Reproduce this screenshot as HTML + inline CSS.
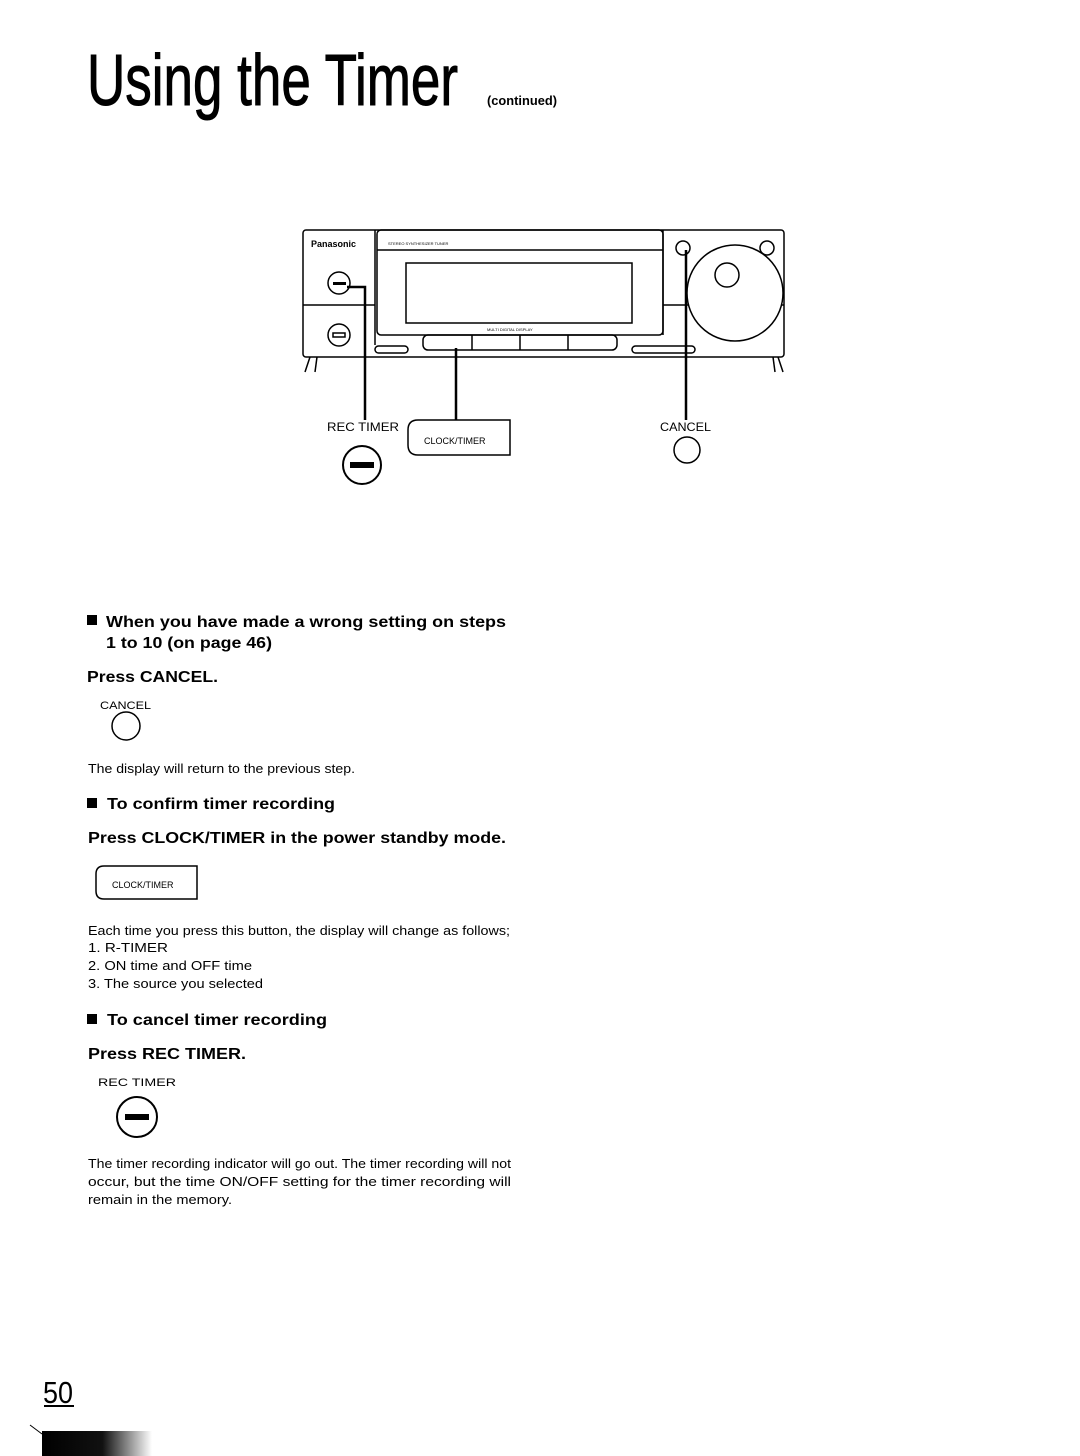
<!DOCTYPE html>
<html><head><meta charset="utf-8"><style>
html,body{margin:0;padding:0;background:#fff;}
svg{display:block;}
text{font-family:"Liberation Sans",Arial,sans-serif;fill:#000;}
.b{font-weight:bold;}
</style></head><body>
<svg width="1080" height="1456" viewBox="0 0 1080 1456" xmlns="http://www.w3.org/2000/svg">
<defs><linearGradient id="g" x1="0" x2="1"><stop offset="0" stop-color="#000"/><stop offset="0.55" stop-color="#111"/><stop offset="1" stop-color="#fff"/></linearGradient></defs>
<text x="87" y="105" font-size="72" textLength="371" lengthAdjust="spacingAndGlyphs" stroke="#000" stroke-width="1">Using the Timer</text>
<text x="487" y="105" font-size="13" class="b" textLength="70" lengthAdjust="spacingAndGlyphs">(continued)</text>

<g fill="none" stroke="#000" stroke-width="1.5">
<rect x="303" y="230" width="481" height="127" rx="3"/>
<line x1="375" y1="230" x2="375" y2="345"/>
<line x1="303" y1="305" x2="375" y2="305"/>
<line x1="663" y1="305" x2="784" y2="305"/>
<rect x="377" y="230" width="286" height="105" rx="4"/>
<line x1="377" y1="250" x2="663" y2="250"/>
<rect x="406" y="263" width="226" height="60"/>
<line x1="663" y1="230" x2="663" y2="335"/>
<circle cx="735" cy="293" r="48" fill="#fff"/>
<circle cx="727" cy="275" r="12"/>
<circle cx="683" cy="248" r="7"/>
<circle cx="767" cy="248" r="7"/>
<circle cx="339" cy="283" r="11"/>
<circle cx="339" cy="335" r="11"/>
<rect x="333" y="333" width="12" height="4"/>
<rect x="423" y="335" width="194" height="15" rx="5"/>
<line x1="472" y1="335" x2="472" y2="350"/><line x1="520" y1="335" x2="520" y2="350"/><line x1="568" y1="335" x2="568" y2="350"/>
<rect x="375" y="346" width="33" height="7" rx="3.5"/>
<rect x="632" y="346" width="63" height="7" rx="3.5"/>
<line x1="310" y1="357" x2="305" y2="372"/><line x1="317" y1="357" x2="315" y2="372"/>
<line x1="773" y1="357" x2="775" y2="372"/><line x1="778" y1="357" x2="783" y2="372"/>
</g>
<rect x="333" y="282" width="13" height="3"/>
<text x="311" y="247" font-size="9" class="b">Panasonic</text>
<text x="388" y="245" font-size="4">STEREO SYNTHESIZER TUNER</text>
<text x="487" y="331" font-size="4">MULTI DIGITAL DISPLAY</text>
<g fill="none" stroke="#000" stroke-width="2.5">
<polyline points="347,287 365,287 365,420"/>
<line x1="456" y1="348" x2="456" y2="420"/>
<line x1="686" y1="250" x2="686" y2="420"/>
</g>
<text x="327" y="431" font-size="12" textLength="72" lengthAdjust="spacingAndGlyphs">REC TIMER</text>
<circle cx="362" cy="465" r="19" fill="none" stroke="#000" stroke-width="2"/>
<rect x="350" y="462" width="24" height="6"/>
<path d="M418,420 H510 V455 H418 Q408,455 408,445 V430 Q408,420 418,420 Z" fill="none" stroke="#000" stroke-width="1.5"/>
<text x="424" y="444" font-size="9">CLOCK/TIMER</text>
<text x="660" y="431" font-size="12" textLength="51" lengthAdjust="spacingAndGlyphs">CANCEL</text>
<circle cx="687" cy="450" r="13" fill="none" stroke="#000" stroke-width="1.5"/>

<rect x="87" y="615" width="10" height="10"/>
<text x="106" y="627" font-size="16" class="b" textLength="400" lengthAdjust="spacingAndGlyphs">When you have made a wrong setting on steps</text>
<text x="106" y="648" font-size="16" class="b" textLength="166" lengthAdjust="spacingAndGlyphs">1 to 10 (on page 46)</text>
<text x="87" y="682" font-size="16" class="b" textLength="131" lengthAdjust="spacingAndGlyphs">Press CANCEL.</text>
<text x="100" y="709" font-size="11" textLength="51" lengthAdjust="spacingAndGlyphs">CANCEL</text>
<circle cx="126" cy="726" r="14" fill="none" stroke="#000" stroke-width="1.5"/>
<text x="88" y="773" font-size="12.5" textLength="267" lengthAdjust="spacingAndGlyphs">The display will return to the previous step.</text>
<rect x="87" y="798" width="10" height="10"/>
<text x="107" y="809" font-size="16" class="b" textLength="228" lengthAdjust="spacingAndGlyphs">To confirm timer recording</text>
<text x="88" y="843" font-size="16" class="b" textLength="418" lengthAdjust="spacingAndGlyphs">Press CLOCK/TIMER in the power standby mode.</text>
<path d="M104,866 H197 V899 H104 Q96,899 96,891 V874 Q96,866 104,866 Z" fill="none" stroke="#000" stroke-width="1.5"/>
<text x="112" y="888" font-size="9">CLOCK/TIMER</text>
<text x="88" y="935" font-size="12.5" textLength="422" lengthAdjust="spacingAndGlyphs">Each time you press this button, the display will change as follows;</text>
<text x="88" y="952" font-size="12.5" textLength="80" lengthAdjust="spacingAndGlyphs">1.  R-TIMER</text>
<text x="88" y="970" font-size="12.5" textLength="164" lengthAdjust="spacingAndGlyphs">2.  ON time and OFF time</text>
<text x="88" y="988" font-size="12.5" textLength="175" lengthAdjust="spacingAndGlyphs">3.  The source you selected</text>
<rect x="87" y="1014" width="10" height="10"/>
<text x="107" y="1025" font-size="16" class="b" textLength="220" lengthAdjust="spacingAndGlyphs">To cancel timer recording</text>
<text x="88" y="1059" font-size="16" class="b" textLength="158" lengthAdjust="spacingAndGlyphs">Press REC TIMER.</text>
<text x="98" y="1086" font-size="11" textLength="78" lengthAdjust="spacingAndGlyphs">REC TIMER</text>
<circle cx="137" cy="1117" r="20" fill="none" stroke="#000" stroke-width="2"/>
<rect x="125" y="1114" width="24" height="6"/>
<text x="88" y="1168" font-size="12.5" textLength="423" lengthAdjust="spacingAndGlyphs">The timer recording indicator will go out. The timer recording will not</text>
<text x="88" y="1186" font-size="12.5" textLength="423" lengthAdjust="spacingAndGlyphs">occur, but the time ON/OFF setting for the timer recording will</text>
<text x="88" y="1204" font-size="12.5" textLength="144" lengthAdjust="spacingAndGlyphs">remain in the memory.</text>

<text x="43" y="1403" font-size="31" textLength="30" lengthAdjust="spacingAndGlyphs">50</text>
<rect x="44" y="1405" width="30" height="2"/>
<line x1="30" y1="1425" x2="42" y2="1434" stroke="#000" stroke-width="1"/>
<rect x="42" y="1431" width="110" height="25" fill="url(#g)"/>
</svg>
</body></html>
